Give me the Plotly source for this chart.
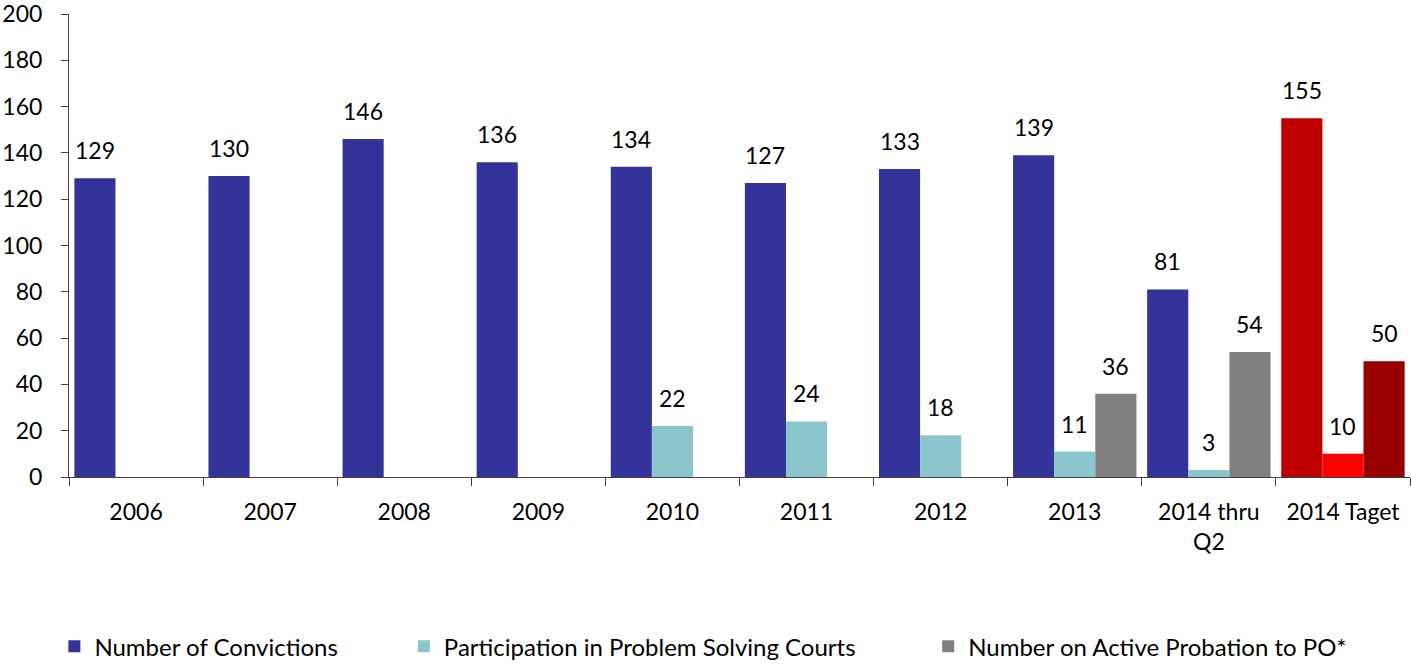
import plotly.graph_objects as go

categories = ["2006", "2007", "2008", "2009", "2010", "2011", "2012", "2013", "2014 thru<br>Q2", "2014 Taget"]
convictions = [129, 130, 146, 136, 134, 127, 133, 139, 81, 155]
problem_courts = [None, None, None, None, 22, 24, 18, 11, 3, 10]
probation_po = [None, None, None, None, None, None, None, 36, 54, 50]
series_names = ["Number of Convictions", "Participation in Problem Solving Courts", "Number on Active Probation to PO*"]
y_ticks = [0, 20, 40, 60, 80, 100, 120, 140, 160, 180, 200]

base_colors = ["#333399", "#8BC6CD", "#808080"]
target_colors = ["#C00000", "#FF0000", "#990000"]

FONT = "Lato"
FS = 23
fig = go.Figure()
series = [convictions, problem_courts, probation_po]
legend_ids = ["legend", "legend2", "legend3"]
for i, (name, vals) in enumerate(zip(series_names, series)):
    colors = [base_colors[i]] * (len(categories) - 1) + [target_colors[i]]
    fig.add_trace(go.Bar(
        x=categories, y=vals, name=name,
        marker=dict(color=colors, line=dict(width=0)),
        legend=legend_ids[i], hoverinfo="skip",
    ))

bar_px = 1341 / len(categories) * (1 - 0.08) / 3
for i, vals in enumerate(series):
    for idx, v in enumerate(vals):
        if v is None:
            continue
        fig.add_annotation(x=idx, y=v, text=str(v), showarrow=False,
                           xshift=(i - 1) * bar_px, yshift=12, yanchor="bottom",
                           font=dict(family=FONT, size=FS, color="#000000"))

fig.update_layout(
    width=1411, height=664,
    margin=dict(l=69, r=1, t=14, b=187, autoexpand=False),
    paper_bgcolor="white", plot_bgcolor="white",
    barmode="group", bargap=0.08, bargroupgap=0,
    font=dict(family=FONT, size=FS, color="#000000"),
    xaxis=dict(type="category", range=[-0.5, len(categories) - 0.5], showline=True,
               linecolor="#404040", linewidth=1,
               ticks="outside", tickson="boundaries", ticklen=8, tickcolor="#404040",
               ticklabelstandoff=14,
               tickangle=0, tickfont=dict(family=FONT, size=FS), showgrid=False, automargin=False),
    yaxis=dict(range=[0, 200], tickvals=y_ticks, showline=True, linecolor="#404040", linewidth=1,
               ticks="outside", ticklen=7, tickcolor="#404040", showgrid=False, zeroline=False,
               ticklabelstandoff=14, ticklabeloverflow="allow",
               tickfont=dict(family=FONT, size=FS), automargin=False),
    showlegend=True,
    legend=dict(x=-0.0109, y=-0.3666, xanchor="left", yanchor="middle", orientation="h",
                font=dict(family=FONT, size=24)),
    legend2=dict(x=0.2497, y=-0.3666, xanchor="left", yanchor="middle", orientation="h",
                 font=dict(family=FONT, size=24)),
    legend3=dict(x=0.6407, y=-0.3666, xanchor="left", yanchor="middle", orientation="h",
                 font=dict(family=FONT, size=24)),
)

fig.write_html("out.html", config={"displayModeBar": False},
               post_script="document.body.style.margin='0';")
